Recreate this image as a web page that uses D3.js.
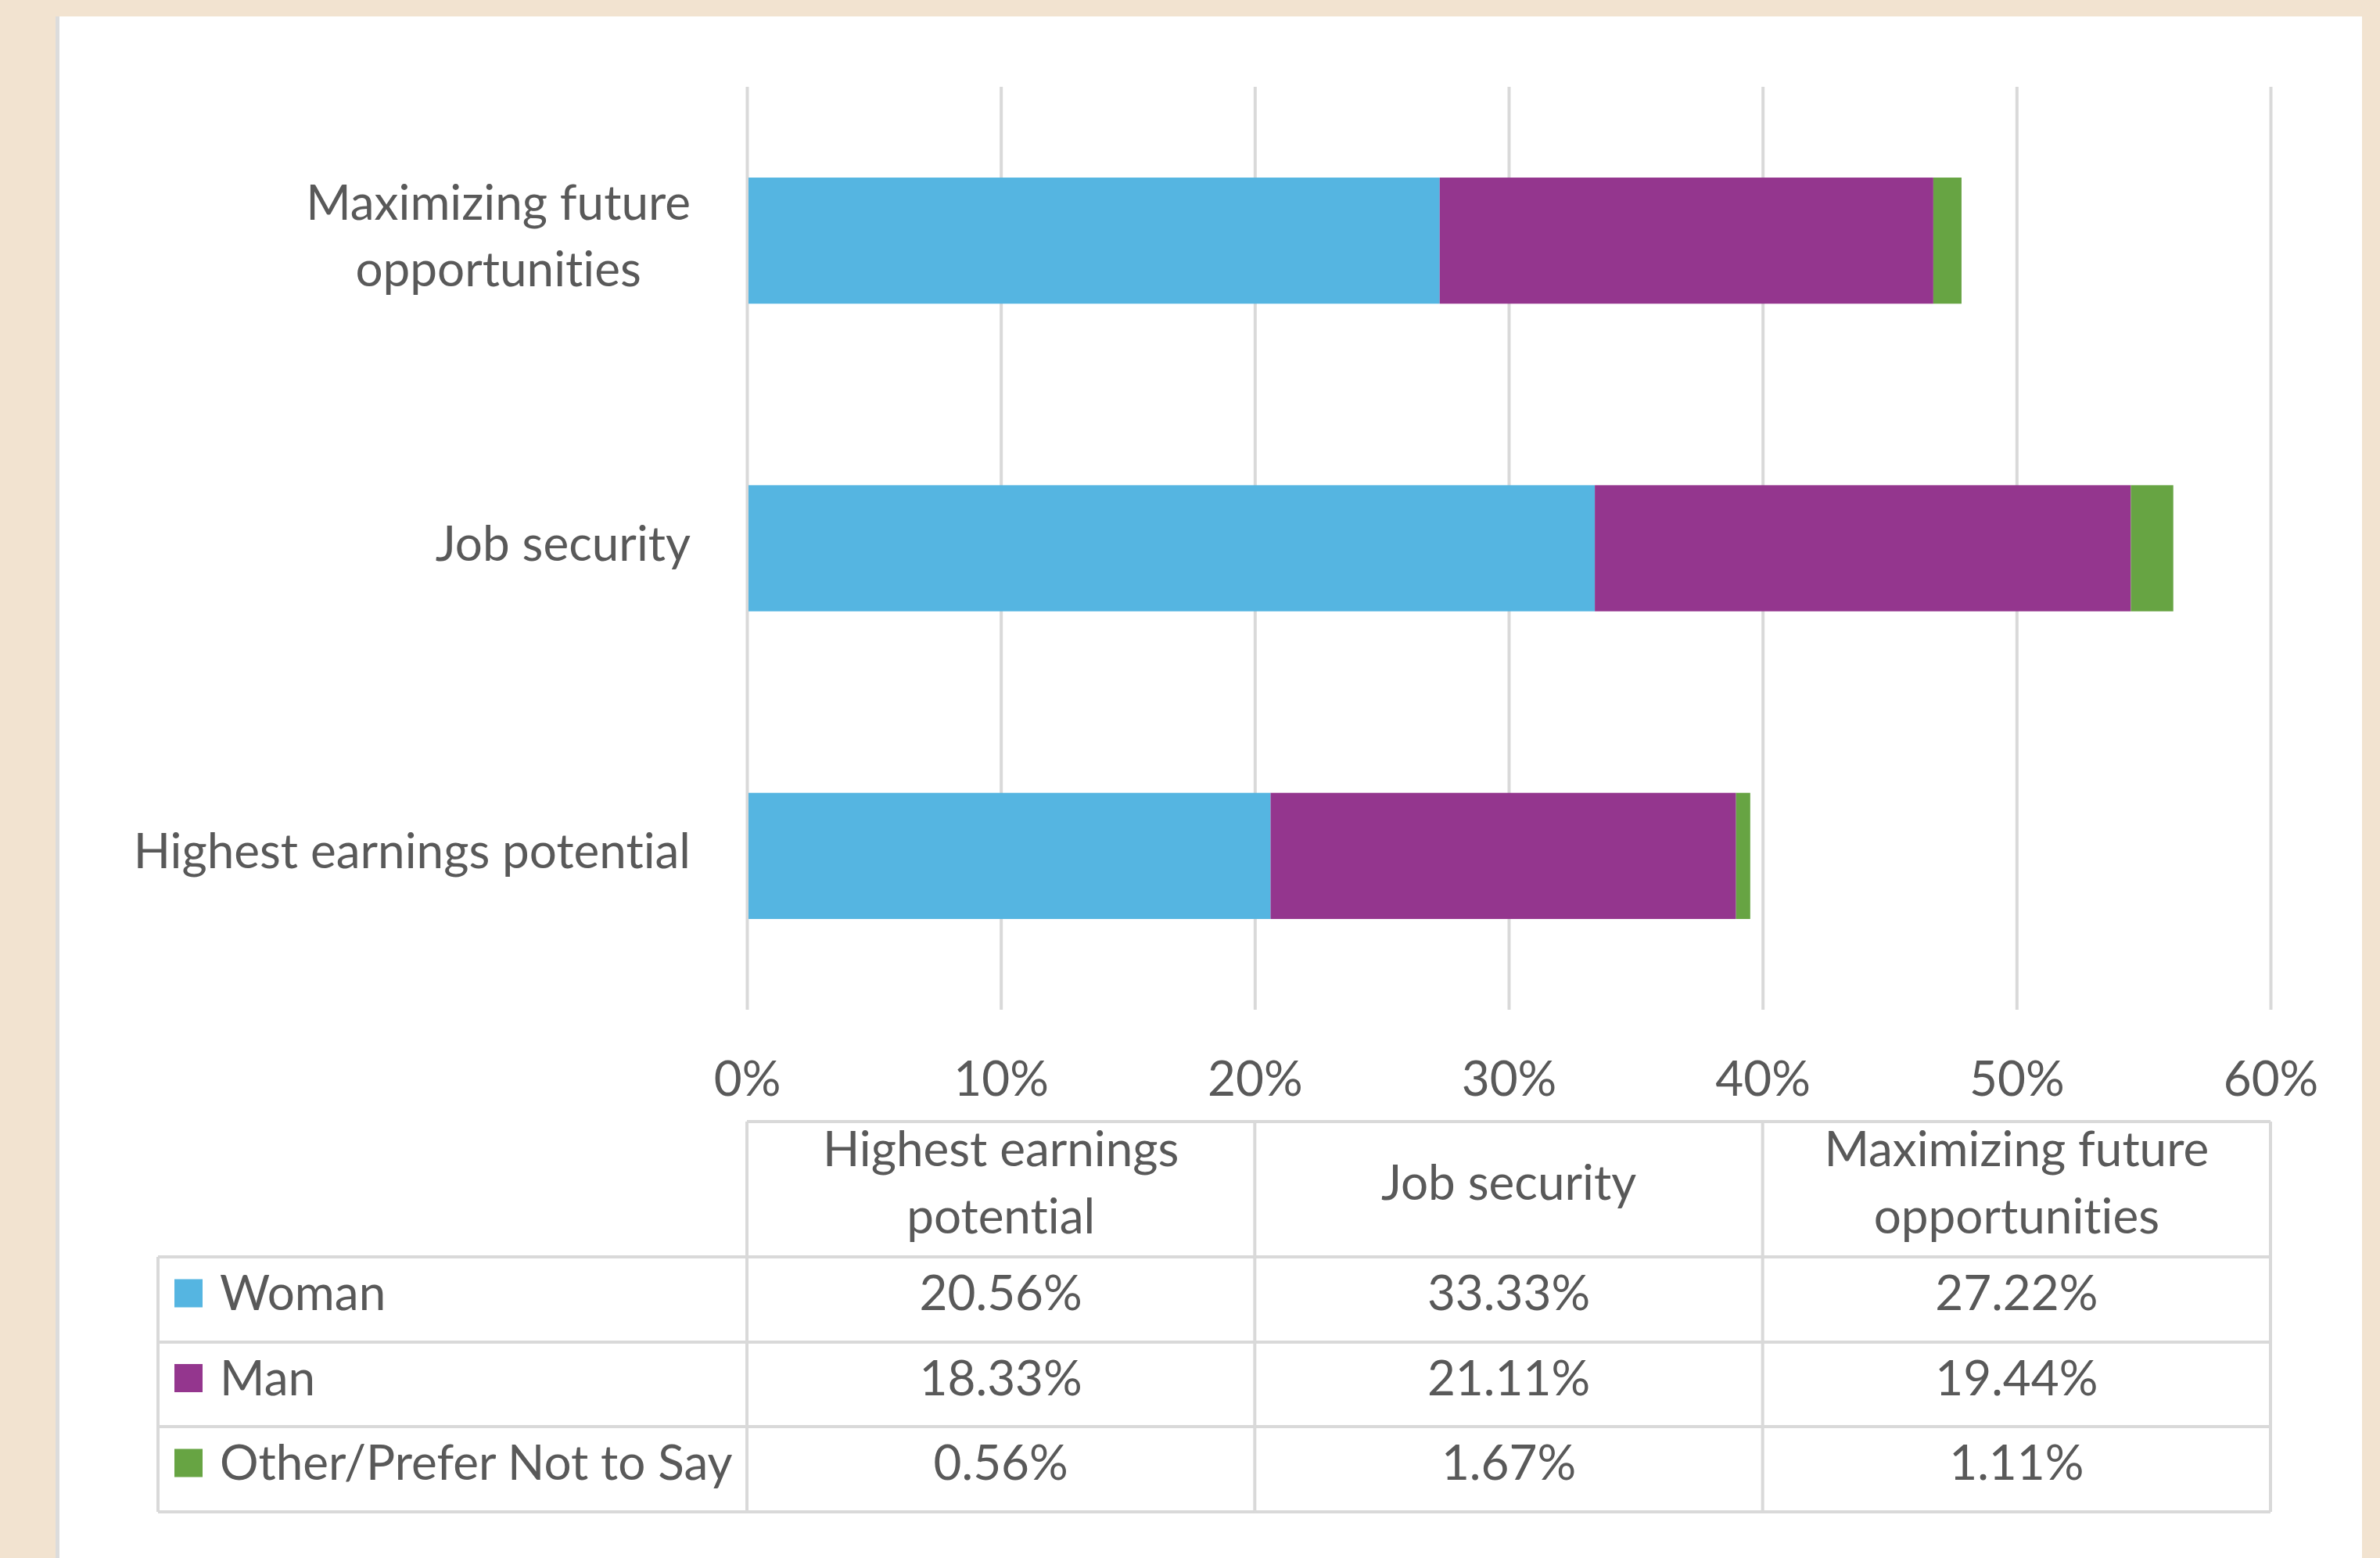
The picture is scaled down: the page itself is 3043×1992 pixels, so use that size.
<!DOCTYPE html>
<html>
<head>
<meta charset="utf-8">
<script src="https://cdn.jsdelivr.net/npm/d3@7"></script>
<style>
  body { margin: 0; background: #f2e3d0; }
  text { font-family: Lato, "Liberation Sans", sans-serif; fill: #595959; font-variant-ligatures: none; }
</style>
</head>
<body>
<div class="chart"></div>
<script>
// data
var categories = ['Highest earnings potential', 'Job security', 'Maximizing future opportunities'];
var categoryLines = [['Highest earnings potential'], ['Job security'], ['Maximizing future', 'opportunities']];
var headerLines = [['Highest earnings', 'potential'], ['Job security'], ['Maximizing future', 'opportunities']];
var seriesNames = ['Woman', 'Man', 'Other/Prefer Not to Say'];
var woman = [20.56, 33.33, 27.22];
var man = [18.33, 21.11, 19.44];
var other = [0.56, 1.67, 1.11];
var seriesColors = ['#55b5e1', '#94368e', '#67a443'];
var xTicks = [0, 10, 20, 30, 40, 50, 60];

var W = 3043, H = 1992;
var fontSize = 62;

var svg = d3.select('.chart')
  .append('svg')
    .attr('width', W)
    .attr('height', H);

// background + white card
svg.append('rect').attr('width', W).attr('height', H).attr('fill', '#f2e3d0');
svg.append('rect').attr('x', 74).attr('y', 21).attr('width', 3020 - 74).attr('height', H).attr('fill', '#fff');
svg.append('rect').attr('x', 71).attr('y', 21).attr('width', 5).attr('height', H).attr('fill', '#dcdcdc');

// scales
var plot = {left: 955, right: 2903, top: 111, bottom: 1291};
var x = d3.scaleLinear().domain([0, 60]).range([plot.left, plot.right]);
var y = d3.scaleBand()
  .domain(categories.slice().reverse())
  .range([plot.top, plot.bottom])
  .paddingInner(0.59)
  .paddingOuter(0.295);

// gridlines + tick labels
var xAxis = d3.axisBottom(x)
  .tickValues(xTicks)
  .tickSize(-(plot.bottom - plot.top))
  .tickPadding(66)
  .tickFormat(function(d){ return d + '%'; });

var gx = svg.append('g')
  .attr('transform', 'translate(0,' + plot.bottom + ')')
  .call(xAxis);
gx.select('.domain').remove();
gx.selectAll('.tick line').attr('stroke', '#d9d9d9').attr('stroke-width', 4);
gx.selectAll('.tick text')
  .attr('font-size', fontSize)
  .attr('fill', '#595959')
  .style('font-family', 'Lato, sans-serif');

// stacked bars
var rows = categories.map(function(c, i){
  return {cat: c, Woman: woman[i], Man: man[i], 'Other/Prefer Not to Say': other[i]};
});
var stack = d3.stack().keys(seriesNames)(rows);

svg.append('g').selectAll('g')
  .data(stack)
  .enter().append('g')
    .attr('fill', function(d, i){ return seriesColors[i]; })
  .selectAll('rect')
  .data(function(d){ return d; })
  .enter().append('rect')
    .attr('x', function(d){ return x(d[0]) + 2; })
    .attr('y', function(d){ return y(d.data.cat); })
    .attr('width', function(d){ return x(d[1]) - x(d[0]); })
    .attr('height', y.bandwidth());

// category labels (multi-line, centred block, right aligned to axis)
var lineH = 85;
categories.forEach(function(c, i){
  var lines = categoryLines[i];
  var cy = y(c) + y.bandwidth() / 2 - 6;
  var t = svg.append('text')
    .attr('font-size', fontSize)
    .attr('text-anchor', 'middle');
  lines.forEach(function(l, j){
    t.append('tspan')
      .attr('y', cy + (j - (lines.length - 1) / 2) * lineH)
      .attr('dy', '0.35em')
      .text(l);
  });
  // widest line sets the block centre
  var wMax = d3.max(t.selectAll('tspan').nodes(), function(n){ return n.getComputedTextLength(); });
  t.selectAll('tspan').attr('x', 883 - wMax / 2);
});

// data table
var colX = d3.range(4).map(function(i){ return plot.left + i * (plot.right - plot.left) / 3; });
var tableLeft = 202;
var rowY = [1434, 1607, 1716, 1824, 1933];
var grid = svg.append('g').attr('stroke', '#d9d9d9').attr('stroke-width', 4);

// header top border spans only value columns
grid.append('line').attr('x1', colX[0]).attr('x2', colX[3]).attr('y1', rowY[0]).attr('y2', rowY[0]);
rowY.slice(1).forEach(function(yy){
  grid.append('line').attr('x1', tableLeft).attr('x2', colX[3]).attr('y1', yy).attr('y2', yy);
});
colX.forEach(function(xx){
  grid.append('line').attr('x1', xx).attr('x2', xx).attr('y1', rowY[0]).attr('y2', rowY[4]);
});
grid.append('line').attr('x1', tableLeft).attr('x2', tableLeft).attr('y1', rowY[1]).attr('y2', rowY[4]);

// header cells
headerLines.forEach(function(lines, i){
  var cx = (colX[i] + colX[i + 1]) / 2;
  var cy = (rowY[0] + rowY[1]) / 2 - 8;
  var t = svg.append('text').attr('font-size', fontSize).attr('text-anchor', 'middle');
  lines.forEach(function(l, j){
    t.append('tspan')
      .attr('x', cx)
      .attr('y', cy + (j - (lines.length - 1) / 2) * 86)
      .attr('dy', '0.35em')
      .text(l);
  });
});

// value rows
var seriesValues = [woman, man, other];
seriesNames.forEach(function(name, r){
  var cy = (rowY[r + 1] + rowY[r + 2]) / 2 - 8;
  svg.append('rect')
    .attr('x', 223).attr('y', cy - 18)
    .attr('width', 36).attr('height', 36)
    .attr('fill', seriesColors[r]);
  svg.append('text')
    .attr('x', 281).attr('y', cy).attr('dy', '0.35em')
    .attr('font-size', fontSize)
    .text(name);
  seriesValues[r].forEach(function(v, i){
    svg.append('text')
      .attr('x', (colX[i] + colX[i + 1]) / 2)
      .attr('y', cy).attr('dy', '0.35em')
      .attr('text-anchor', 'middle')
      .attr('font-size', fontSize)
      .text(v.toFixed(2) + '%');
  });
});
</script>
</body>
</html>
